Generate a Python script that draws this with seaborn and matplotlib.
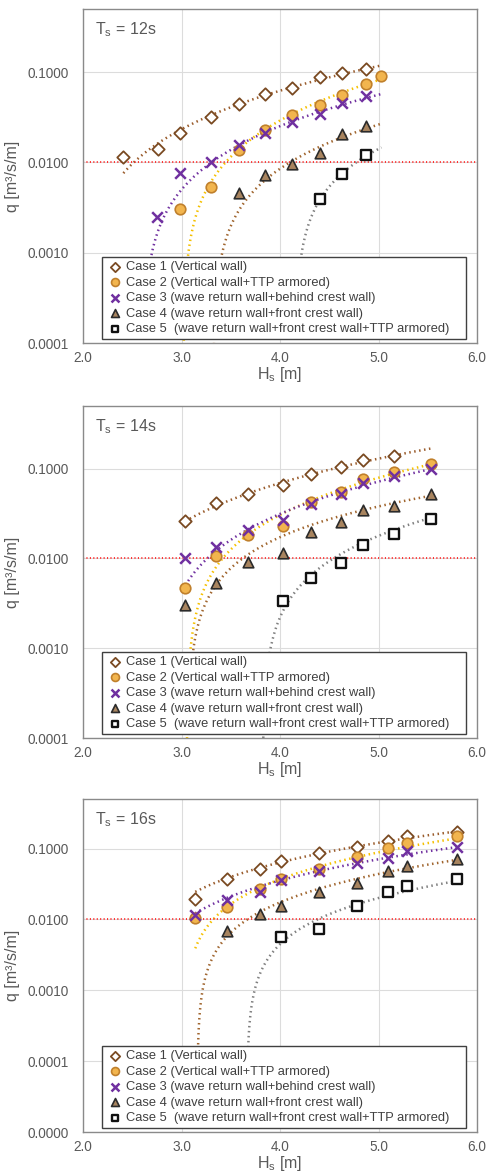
import numpy as np
import seaborn as sns
import matplotlib
matplotlib.use("Agg")
from matplotlib import pyplot as plt
from matplotlib.ticker import FixedLocator, FuncFormatter, LogLocator, NullFormatter

# ---- data (Hs [m], q [m3/s/m]) ----
period_labels = ["12s", "14s", "16s"]
case_labels = [
    "Case 1 (Vertical wall)",
    "Case 2 (Vertical wall+TTP armored)",
    "Case 3 (wave return wall+behind crest wall)",
    "Case 4 (wave return wall+front crest wall)",
    "Case 5  (wave return wall+front crest wall+TTP armored)",
]

# Ts = 12s
t12_c1_hs = [2.41, 2.76, 2.98, 3.30, 3.58, 3.85, 4.12, 4.41, 4.63, 4.87]
t12_c1_q = [0.0115, 0.0142, 0.0212, 0.0319, 0.0440, 0.0571, 0.0671, 0.0873, 0.0975, 0.109]
t12_c2_hs = [2.98, 3.30, 3.58, 3.85, 4.12, 4.41, 4.63, 4.87, 5.03]
t12_c2_q = [0.00308, 0.00535, 0.0137, 0.0231, 0.0338, 0.0436, 0.0562, 0.0743, 0.0903]
t12_c3_hs = [2.75, 2.98, 3.30, 3.58, 3.85, 4.12, 4.41, 4.63, 4.87]
t12_c3_q = [0.00249, 0.00756, 0.0100, 0.0157, 0.0212, 0.0281, 0.0347, 0.0451, 0.0539]
t12_c4_hs = [3.58, 3.85, 4.12, 4.41, 4.63, 4.87]
t12_c4_q = [0.00463, 0.00725, 0.0096, 0.0127, 0.0204, 0.0256]
t12_c5_hs = [4.41, 4.63, 4.87]
t12_c5_q = [0.00397, 0.0075, 0.0121]

# Ts = 14s
t14_c1_hs = [3.04, 3.35, 3.68, 4.03, 4.31, 4.62, 4.84, 5.16]
t14_c1_q = [0.0261, 0.0419, 0.0528, 0.0667, 0.0863, 0.105, 0.126, 0.140]
t14_c2_hs = [3.04, 3.35, 3.68, 4.03, 4.31, 4.62, 4.84, 5.16, 5.53]
t14_c2_q = [0.00472, 0.0106, 0.0183, 0.0233, 0.0430, 0.0552, 0.0759, 0.0925, 0.114]
t14_c3_hs = [3.04, 3.35, 3.68, 4.03, 4.31, 4.62, 4.84, 5.16, 5.53]
t14_c3_q = [0.0100, 0.0135, 0.0208, 0.0270, 0.0408, 0.0524, 0.0697, 0.0827, 0.100]
t14_c4_hs = [3.04, 3.35, 3.68, 4.03, 4.31, 4.62, 4.84, 5.16, 5.53]
t14_c4_q = [0.00307, 0.00537, 0.0091, 0.0114, 0.0199, 0.0258, 0.0349, 0.0387, 0.0523]
t14_c5_hs = [4.03, 4.31, 4.62, 4.84, 5.16, 5.53]
t14_c5_q = [0.00334, 0.00607, 0.0088, 0.0143, 0.0186, 0.0274]

# Ts = 16s
t16_c1_hs = [3.14, 3.46, 3.80, 4.01, 4.40, 4.78, 5.10, 5.29, 5.80]
t16_c1_q = [0.0193, 0.0370, 0.0506, 0.0670, 0.0851, 0.1045, 0.128, 0.152, 0.172]
t16_c2_hs = [3.14, 3.46, 3.80, 4.01, 4.40, 4.78, 5.10, 5.29, 5.80]
t16_c2_q = [0.0103, 0.0151, 0.0267, 0.0370, 0.0506, 0.0763, 0.102, 0.1215, 0.151]
t16_c3_hs = [3.14, 3.46, 3.80, 4.01, 4.40, 4.78, 5.10, 5.29, 5.80]
t16_c3_q = [0.0115, 0.0187, 0.0240, 0.0358, 0.0484, 0.0615, 0.0739, 0.0917, 0.105]
t16_c4_hs = [3.46, 3.80, 4.01, 4.40, 4.78, 5.10, 5.29, 5.80]
t16_c4_q = [0.00692, 0.0119, 0.0156, 0.0245, 0.0322, 0.0484, 0.0570, 0.0723]
t16_c5_hs = [4.01, 4.40, 4.78, 5.10, 5.29, 5.80]
t16_c5_q = [0.0057, 0.0074, 0.0156, 0.0245, 0.0298, 0.0374]

# dotted trendlines: points
tr12_c1 = ([2.41, 3.58, 5.02], [0.0076, 0.044, 0.118])
tr12_c2 = ([3.07, 3.58, 4.12, 5.02], [0.001, 0.014, 0.034, 0.083])
tr12_c3 = ([2.70, 3.30, 4.12, 5.01], [0.001, 0.010, 0.028, 0.057])
tr12_c4 = ([3.33, 3.41, 4.12, 5.02], [0.0001, 0.001, 0.0096, 0.0279])
tr12_c5 = ([4.16, 4.22, 4.63, 5.02], [0.0001, 0.001, 0.0075, 0.0145])

tr14_c1 = ([3.04, 4.31, 5.53], [0.0261, 0.0863, 0.168])
tr14_c2 = ([3.056, 3.09, 3.68, 4.31, 5.53], [0.0001, 0.001, 0.0175, 0.043, 0.1167])
tr14_c3 = ([3.04, 3.35, 4.31, 5.53], [0.005, 0.0125, 0.041, 0.101])
tr14_c4 = ([3.07, 3.12, 3.35, 4.31, 5.53], [0.0001, 0.001, 0.0053, 0.021, 0.0537])
tr14_c5 = ([3.83, 3.90, 4.31, 5.53], [0.0001, 0.001, 0.0061, 0.029])

tr16_c1 = ([3.14, 4.40, 5.80], [0.0245, 0.085, 0.175])
tr16_c2 = ([3.14, 3.46, 4.01, 5.80], [0.0039, 0.0151, 0.037, 0.14])
tr16_c3 = ([3.14, 4.40, 5.80], [0.0122, 0.0484, 0.105])
tr16_c4 = ([3.17, 3.23, 3.46, 4.40, 5.80], [0.0002, 0.0014, 0.0057, 0.0245, 0.0747])
tr16_c5 = ([3.68, 3.77, 4.01, 4.40, 4.78, 5.80], [0.0002, 0.0014, 0.0046, 0.0103, 0.0156, 0.036])

panels = [
    [(t12_c1_hs, t12_c1_q), (t12_c2_hs, t12_c2_q), (t12_c3_hs, t12_c3_q), (t12_c4_hs, t12_c4_q), (t12_c5_hs, t12_c5_q)],
    [(t14_c1_hs, t14_c1_q), (t14_c2_hs, t14_c2_q), (t14_c3_hs, t14_c3_q), (t14_c4_hs, t14_c4_q), (t14_c5_hs, t14_c5_q)],
    [(t16_c1_hs, t16_c1_q), (t16_c2_hs, t16_c2_q), (t16_c3_hs, t16_c3_q), (t16_c4_hs, t16_c4_q), (t16_c5_hs, t16_c5_q)],
]
trends = [
    [tr12_c1, tr12_c2, tr12_c3, tr12_c4, tr12_c5],
    [tr14_c1, tr14_c2, tr14_c3, tr14_c4, tr14_c5],
    [tr16_c1, tr16_c2, tr16_c3, tr16_c4, tr16_c5],
]
y_bottoms = [1e-4, 1e-4, 1e-5]
q_limit = 0.01

# marker / trendline styles per case
styles = [
    dict(marker="D", s=40, facecolor="white", edgecolor="#7a4a22", lw=1.3),
    dict(marker="o", s=58, facecolor="#f2b54e", edgecolor="#c0802c", lw=1.2),
    dict(marker="x", s=58, facecolor="#7030a0", edgecolor="#7030a0", lw=1.8),
    dict(marker="^", s=58, facecolor="#a8845f", edgecolor="#2b2b2b", lw=1.2),
    dict(marker="s", s=44, facecolor="white", edgecolor="#111111", lw=1.7),
]
trend_colors = ["#9a5c2c", "#f5c000", "#7030a0", "#a0652e", "#808080"]

sns.set_style("white")
plt.rcParams["font.family"] = ["Liberation Sans", "DejaVu Sans"]
plt.rcParams["mathtext.default"] = "regular"

fig = plt.figure(figsize=(4.86, 11.74), dpi=100)
# axes boxes in pixels: (top, bottom)
boxes = [(9, 343), (406, 738), (799, 1132)]
W, H = 486.0, 1174.0
grey_txt = "#595959"

for pi, (series, ybot, (top, bot)) in enumerate(zip(panels, y_bottoms, boxes)):
    ax = fig.add_axes([83 / W, 1 - bot / H, 394 / W, (bot - top) / H])
    ax.set_yscale("log")

    all_x = np.concatenate([np.asarray(s[0]) for s in series])
    grid = np.linspace(all_x.min(), all_x.max(), 800)

    # order-2 polynomial trendlines through the read curve points
    # (relative weighting so the steep low end is followed as well)
    for ci, (tx, tq) in enumerate(trends[pi]):
        tq = np.asarray(tq)
        fit = np.polyval(np.polyfit(tx, tq, 2, w=1.0 / tq), grid)
        nonpos = np.where(fit <= 0)[0]
        start = nonpos[-1] + 1 if len(nonpos) else 0
        sns.lineplot(x=grid[start:], y=fit[start:], ax=ax, color=trend_colors[ci], lw=1.8,
                     linestyle=(0, (0.6, 1.4)), sort=False, zorder=2)

    ax.axhline(q_limit, color="#ff2020", lw=1.3, linestyle=(0, (0.6, 1.3)), zorder=2)

    for ci, (hs, q) in enumerate(series):
        st = styles[ci]
        if st["marker"] == "x":
            sns.scatterplot(x=hs, y=q, ax=ax, marker="x", s=st["s"], color=st["edgecolor"],
                            linewidth=st["lw"], label=case_labels[ci], zorder=4)
        else:
            sns.scatterplot(x=hs, y=q, ax=ax, marker=st["marker"], s=st["s"],
                            facecolor=st["facecolor"], edgecolor=st["edgecolor"],
                            linewidth=st["lw"], label=case_labels[ci], zorder=4)

    ax.set_xlim(2.0, 6.0)
    ax.set_ylim(ybot, 0.5)
    ax.set_xticks([2.0, 3.0, 4.0, 5.0, 6.0])
    ax.xaxis.set_major_formatter(FuncFormatter(lambda v, p: f"{v:.1f}"))
    decades = [10.0 ** e for e in range(int(np.log10(ybot)), 0)]
    ax.yaxis.set_major_locator(FixedLocator(decades))
    ax.yaxis.set_major_formatter(FuncFormatter(lambda v, p: f"{v:.4f}"))
    ax.yaxis.set_minor_locator(LogLocator(base=10, subs=np.arange(2, 10)))
    ax.yaxis.set_minor_formatter(NullFormatter())

    ax.grid(True, which="major", color="#dcdcdc", lw=0.8, zorder=0)
    ax.set_axisbelow(True)
    for sp in ax.spines.values():
        sp.set_color("#8a8a8a")
        sp.set_linewidth(1.0)
    ax.tick_params(axis="x", length=0, pad=6, labelsize=9.8, labelcolor=grey_txt)
    ax.tick_params(axis="y", which="major", direction="in", length=4, color="#8a8a8a",
                   pad=10, labelsize=9.8, labelcolor=grey_txt)
    ax.tick_params(axis="y", which="minor", direction="in", length=3, color="#8a8a8a")

    ax.set_xlabel("H$_\\mathregular{s}$ [m]", fontsize=11.5, color=grey_txt, labelpad=0)
    ax.set_ylabel("q [m³/s/m]", fontsize=11.5, color=grey_txt, labelpad=6)
    ax.text(0.03, 0.965, "T$_\\mathregular{s}$ = " + period_labels[pi], transform=ax.transAxes,
            ha="left", va="top", fontsize=11.5, color=grey_txt)

    leg = ax.legend(loc="lower left", bbox_to_anchor=(0.048, 0.012, 0.924, 0.25), mode="expand",
                    fontsize=9.3, frameon=True, fancybox=False, framealpha=1, edgecolor="#404040",
                    handlelength=1.4, handletextpad=0.2, labelspacing=0.27, borderpad=0.3,
                    borderaxespad=0, markerscale=0.75, scatterpoints=1)
    leg.get_frame().set_linewidth(1.0)
    for t in leg.get_texts():
        t.set_color("#404040")

fig.savefig("out.png", dpi=100)
